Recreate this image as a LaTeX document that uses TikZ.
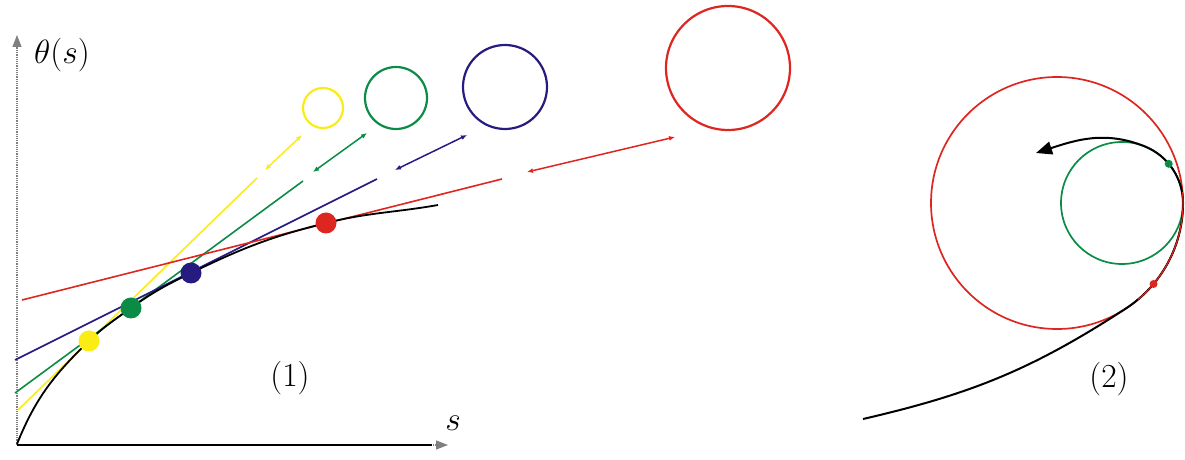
\documentclass[tikz,border=0pt]{standalone}
\usetikzlibrary{arrows.meta}
\definecolor{cyellow}{RGB}{250,236,20}
\definecolor{cgreen}{RGB}{10,140,70}
\definecolor{cblue}{RGB}{38,28,128}
\definecolor{cred}{RGB}{222,38,32}
\begin{document}
\begin{tikzpicture}[x=1pt,y=1pt,
  tline/.style={line width=1.6pt},
  ring/.style={line width=2.2pt},
  curve/.style={line width=1.8pt, black},
  dot/.style={circle, inner sep=0pt, minimum size=21pt},
  small/.style={circle, inner sep=0pt, minimum size=8pt},
  bigring/.style={circle, draw, line width=1.7pt, inner sep=0pt, outer sep=0pt},
  twoway/.style={line width=1.5pt, {Latex[length=6pt,width=5pt]}-{Latex[length=6pt,width=5pt]}},
  axis/.style={gray, line width=1.2pt, densely dotted, -{Triangle[length=12pt,width=9pt]}},
  lbl/.style={font=\Huge, scale=1.35}]
\useasboundingbox (0,0) rectangle (1185,460);
% axes
\coordinate (O) at (17,15);
\coordinate (ytop) at (17,425);
\coordinate (xend) at (448,15);
\coordinate (xblack) at (432,15);
\draw[axis] (O) -- (ytop);
\draw[axis] (O) -- (xend);
\draw[line width=2.4pt] (O) -- (xblack);
\node[lbl] (theta) at (62,405) {$\theta(s)$};
\node[lbl] (slabel) at (453,37) {$s$};
\node[lbl] (one) at (290,82) {(1)};
% tangent lines
\coordinate (ya) at (18,50);   \coordinate (yb) at (257,282);
\coordinate (ga) at (15,67);   \coordinate (gb) at (303,279);
\coordinate (ba) at (15,100);  \coordinate (bb) at (377,281);
\coordinate (ra) at (22,160);  \coordinate (rb) at (502,281);
\draw[tline, cyellow] (ya) -- (yb);
\draw[tline, cgreen] (ga) -- (gb);
\draw[tline, cblue] (ba) -- (bb);
\draw[tline, cred] (ra) -- (rb);
% arrows towards the circles
\coordinate (y1) at (265,290); \coordinate (y2) at (302,325);
\coordinate (g1) at (313,288); \coordinate (g2) at (367,327);
\coordinate (b1) at (395,290); \coordinate (b2) at (467,325);
\coordinate (r1) at (527,288); \coordinate (r2) at (675,323);
\draw[twoway, cyellow] (y1) -- (y2);
\draw[twoway, cgreen] (g1) -- (g2);
\draw[twoway, cblue] (b1) -- (b2);
\draw[twoway, cred] (r1) -- (r2);
% osculating circles
\draw[ring, cyellow] (323,352) circle (20);
\draw[ring, cgreen] (396,362) circle (31);
\draw[ring, cblue] (505,373) circle (42);
\draw[ring, cred] (728,392) circle (62);
% the curve and its points
\coordinate (cstart) at (17,16);
\coordinate (cend) at (438,255);
\coordinate (yp) at (89,119);
\coordinate (gp) at (131,152);
\coordinate (bp) at (191,187);
\coordinate (rp) at (326,237);
\draw[curve] (cstart) to[out=68,in=224] (yp) to[out=44,in=216] (gp)
  to[out=36,in=206] (bp) to[out=26,in=194] (rp) to[out=14,in=190] (cend);
\node[dot, fill=cyellow] (ydot) at (yp) {};
\node[dot, fill=cgreen] (gdot) at (gp) {};
\node[dot, fill=cblue] (bdot) at (bp) {};
\node[dot, fill=cred] (rdot) at (rp) {};
% (2)
\node[bigring, cred, minimum size=252pt] (bigc) at (1057,257) {};
\node[bigring, cgreen, minimum size=122pt] (smallc) at (1122,257) {};
\coordinate (sstart) at (863,41);
\coordinate (tip) at (1036,307);
\draw[curve, line width=2pt, -{Triangle[length=16pt,width=13pt]}] (sstart) to[out=13,in=213] (bigc.-57)
  arc[start angle=-57, end angle=0, radius=126]
  arc[start angle=0, end angle=68, radius=61]
  to[out=158,in=18] (tip);
\draw[cred, line width=1.2pt] (bigc.-50) arc[start angle=-50, end angle=5, radius=126];
\node[small, fill=cred] (rsmall) at (bigc.-40) {};
\node[small, fill=cgreen] (gsmall) at (smallc.40) {};
\node[lbl] (two) at (1109,81) {(2)};
\end{tikzpicture}
\end{document}
